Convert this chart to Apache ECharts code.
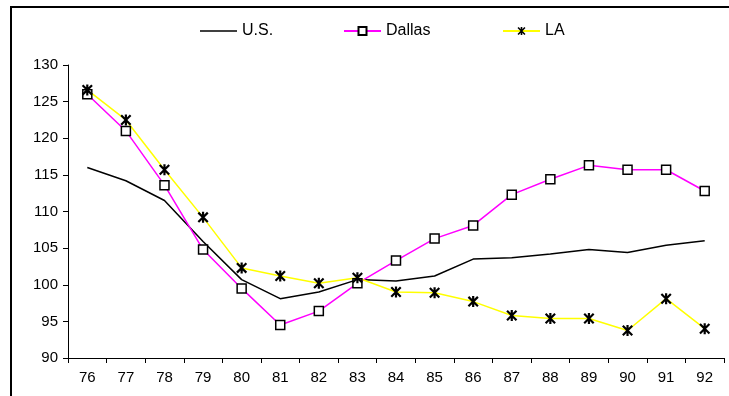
<!DOCTYPE html>
<html>
<head>
<meta charset="utf-8">
<script src="https://cdn.jsdelivr.net/npm/echarts@6/dist/echarts.min.js"></script>
<style>
  html, body { margin: 0; padding: 0; background: #fff; }
  #chart { width: 729px; height: 396px; }
</style>
</head>
<body>
<div id="chart"></div>
<script>
// Years on the horizontal axis
const years = ['76','77','78','79','80','81','82','83','84','85','86','87','88','89','90','91','92'];

// Index values per year
const usValues     = [116.0, 114.2, 111.5, 105.9, 100.7, 98.1, 99.0, 100.7, 100.5, 101.2, 103.5, 103.7, 104.2, 104.8, 104.4, 105.4, 106.0];
const dallasValues = [126.0, 121.0, 113.6, 104.8, 99.5, 94.5, 96.4, 100.2, 103.3, 106.3, 108.1, 112.3, 114.4, 116.3, 115.7, 115.7, 112.8];
const laValues     = [126.6, 122.5, 115.7, 109.2, 102.3, 101.2, 100.2, 100.95, 99.0, 98.9, 97.7, 95.8, 95.4, 95.4, 93.75, 98.1, 94.0];

// Value axis range
const yMin = 90, yMax = 130, yStep = 5;

// Asterisk marker: an X crossed by a vertical bar
const asterisk = 'path://M4,0 L6,0 L6,10 L4,10 Z M0,1.4 L1.4,0 L10,8.6 L8.6,10 Z M8.6,0 L10,1.4 L1.4,10 L0,8.6 Z';

const font = '"Liberation Sans", Arial, sans-serif';

const chart = echarts.init(document.getElementById('chart'), null, { renderer: 'canvas' });

const legendBase = {
  top: 18,
  itemWidth: 37,
  itemHeight: 10,
  textStyle: { fontFamily: font, fontSize: 16, color: '#000' },
  selectedMode: false
};

chart.setOption({
  animation: false,
  backgroundColor: '#fff',
  graphic: [{
    type: 'rect',
    shape: { x: 11, y: 7, width: 740, height: 420 },
    style: { fill: 'none', stroke: '#000', lineWidth: 2 },
    silent: true
  }],
  legend: [
    // plain line key for the series drawn without markers
    Object.assign({}, legendBase, {
      left: 195, itemHeight: 1.5,
      data: [{ name: 'U.S.', icon: 'rect' }]
    }),
    Object.assign({ left: 338, data: ['Dallas'] }, legendBase),
    Object.assign({ left: 497, data: ['LA'] }, legendBase)
  ],
  grid: { left: 68, right: 5, top: 65, bottom: 38, containLabel: false },
  xAxis: {
    type: 'category',
    data: years,
    boundaryGap: true,
    axisLine: { show: true, lineStyle: { color: '#000', width: 1 } },
    axisTick: { show: true, length: 5, lineStyle: { color: '#000' } },
    axisLabel: { color: '#000', fontFamily: font, fontSize: 15, margin: 12 },
    splitLine: { show: false }
  },
  yAxis: {
    type: 'value',
    min: yMin,
    max: yMax,
    interval: yStep,
    axisLine: { show: true, lineStyle: { color: '#000', width: 1 } },
    axisTick: { show: true, length: 5, lineStyle: { color: '#000' } },
    axisLabel: { color: '#000', fontFamily: font, fontSize: 15, margin: 10 },
    splitLine: { show: false }
  },
  series: [
    {
      name: 'U.S.',
      type: 'line',
      data: usValues,
      symbol: 'none',
      lineStyle: { color: '#000', width: 1.5 },
      itemStyle: { color: '#000' },
      z: 2
    },
    {
      name: 'Dallas',
      type: 'line',
      data: dallasValues,
      symbol: 'rect',
      symbolSize: 9,
      lineStyle: { color: '#ff00ff', width: 1.5 },
      itemStyle: { color: '#fff', borderColor: '#000', borderWidth: 1.5 },
      z: 3
    },
    {
      name: 'LA',
      type: 'line',
      data: laValues,
      symbol: asterisk,
      symbolSize: 11,
      lineStyle: { color: '#ffff00', width: 1.5 },
      itemStyle: { color: '#000', borderWidth: 0 },
      z: 3
    }
  ]
});
</script>
</body>
</html>
